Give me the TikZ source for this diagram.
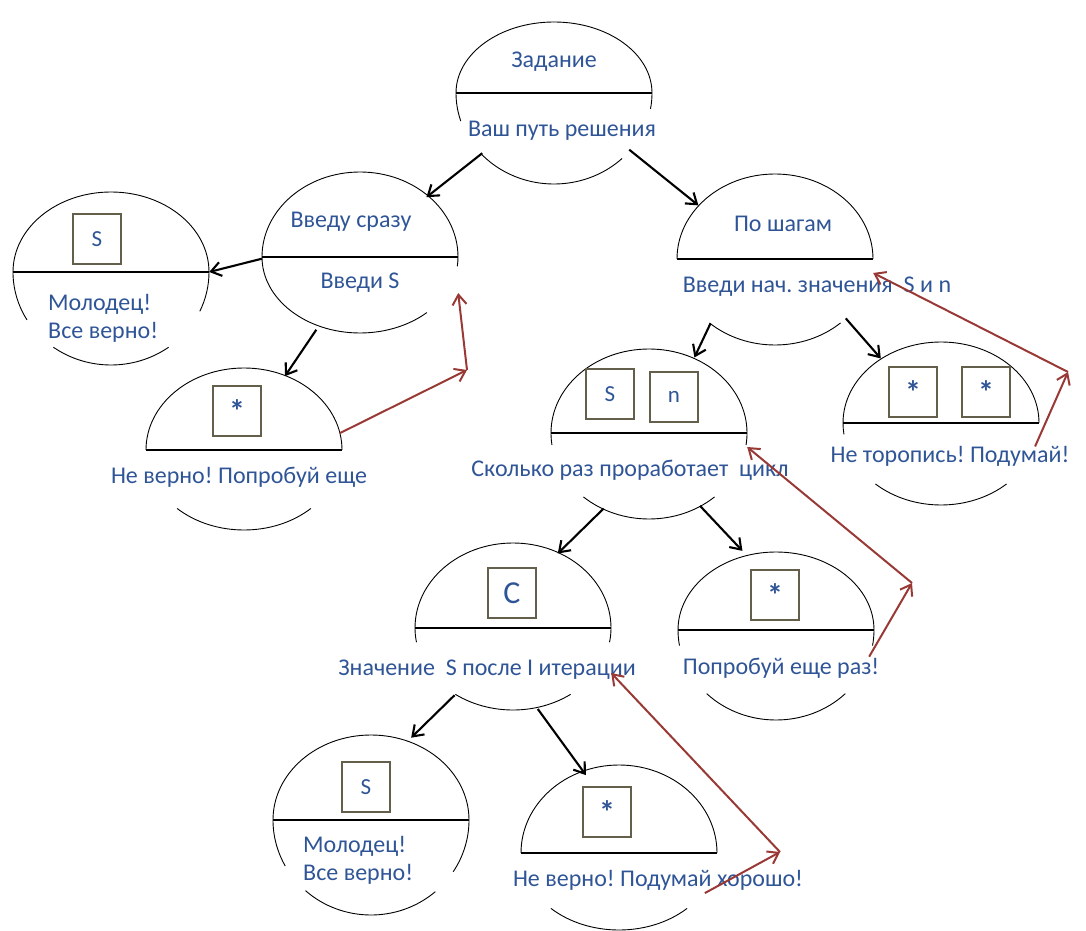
\documentclass[tikz,border=0pt]{standalone}
\usepackage{fontspec}
\setmainfont{Carlito}
\usetikzlibrary{arrows.meta,shapes.geometric}
\definecolor{txtblue}{RGB}{47,85,151}
\definecolor{darkred}{RGB}{153,57,54}
\definecolor{boxgray}{RGB}{100,95,75}
\frenchspacing
\tikzset{node distance=2.0cm, auto}
\newcommand{\toparc}[2]{\draw[rim] ([shift={(180:98pt and #2pt)}]#1.center) arc[start angle=180,end angle=0,x radius=98pt,y radius=#2pt];
  \draw[bar] (#1.west) -- (#1.east);}
\newcommand{\lowarc}[4]{\draw[rim] ([shift={(#3:98pt and #2pt)}]#1.center) arc[start angle=#3,end angle=#4,x radius=98pt,y radius=#2pt];}

\begin{document}
\begin{tikzpicture}[x=1pt,y=1pt,
  >={Straight Barb[length=10pt,width=14pt]},
  qn/.style={ellipse, minimum width=196pt, minimum height=#1, inner sep=0pt},
  txt/.style={text=txtblue, font=\fontsize{24}{28}\selectfont, inner sep=1pt},
  cell/.style={draw=boxgray, line width=1.3pt, minimum width=48pt, minimum height=50pt, text=txtblue, font=\fontsize{23}{24}\selectfont},
  star/.style={cell, font=\fontsize{32}{32}\selectfont\bfseries},
  rim/.style={line width=0.9pt},
  bar/.style={line width=2.4pt},
  fwd/.style={->, line width=2.1pt},
  ret/.style={->, line width=2pt, draw=darkred}
]
\useasboundingbox (0,0) rectangle (1086,930);

\node[qn=176pt] (zad) at (554,837) {};
\node[qn=162pt] (vs) at (360,673) {};
\node[qn=173pt] (ok1) at (111,658) {};
\node[qn=162pt] (nv1) at (244,480) {};
\node[qn=171pt] (ps) at (775,671) {};
\node[qn=170pt] (sn) at (649,497) {};
\node[qn=163pt] (nt) at (941,507) {};
\node[qn=167pt] (it) at (513,302) {};
\node[qn=168pt] (pr) at (776,300) {};
\node[qn=180pt] (ok2) at (371,110) {};
\node[qn=165pt] (nv2) at (619,77) {};

\toparc{zad}{71}
\lowarc{zad}{91}{180}{198} \lowarc{zad}{91}{222}{314} \lowarc{zad}{91}{350}{360}
\toparc{vs}{85}
\lowarc{vs}{76}{180}{313} \lowarc{vs}{76}{353}{360}
\toparc{ok1}{80}
\lowarc{ok1}{93}{180}{211} \lowarc{ok1}{93}{234}{306} \lowarc{ok1}{93}{335}{360}
\toparc{nv1}{82}
\lowarc{nv1}{80}{227}{313}
\toparc{ps}{85}
\lowarc{ps}{86}{228}{312}
\toparc{sn}{84}
\lowarc{sn}{86}{180}{188} \lowarc{sn}{86}{228}{312} \lowarc{sn}{86}{352}{360}
\toparc{nt}{81}
\lowarc{nt}{82}{180}{188} \lowarc{nt}{82}{228}{312}
\toparc{it}{85}
\lowarc{it}{82}{180}{190} \lowarc{it}{82}{234}{306} \lowarc{it}{82}{350}{360}
\toparc{pr}{78}
\lowarc{pr}{90}{180}{190} \lowarc{pr}{90}{225}{315} \lowarc{pr}{90}{350}{360}
\toparc{ok2}{85}
\lowarc{ok2}{95}{180}{209} \lowarc{ok2}{95}{228}{311} \lowarc{ok2}{95}{327}{360}
\toparc{nv2}{88}
\lowarc{nv2}{77}{226}{314}

\node[txt] (zadT) at ([yshift=31pt]zad.center) {Задание};
\node[txt] (zadB) at ([shift={(8pt,-38pt)}]zad.center) {Ваш путь решения};
\node[txt] (vsT) at ([shift={(-9pt,35pt)}]vs.center) {Введу сразу};
\node[txt] (vsB) at ([yshift=-26pt]vs.center) {Введи S};
\node[cell] (ok1S) at ([shift={(-14pt,33pt)}]ok1.center) {S};
\node[txt, align=left, anchor=west] (ok1B) at ([shift={(-64pt,-46pt)}]ok1.center) {Молодец!\\Все верно!};
\node[star] (nv1S) at ([shift={(-7pt,39pt)}]nv1.center) {*};
\node[txt] (nv1B) at ([shift={(-5pt,-27pt)}]nv1.center) {Не верно! Попробуй еще};
\node[txt] (psT) at ([shift={(8pt,35pt)}]ps.center) {По шагам};
\node[txt] (psB) at ([shift={(42pt,-28pt)}]ps.center) {Введи нач. значения~ S и n};
\node[cell] (snS) at ([shift={(-39pt,39pt)}]sn.center) {S};
\node[cell] (snN) at ([shift={(25pt,36pt)}]sn.center) {n};
\node[txt] (snB) at ([shift={(-19pt,-37pt)}]sn.center) {Сколько раз проработает~ цикл};
\node[star] (ntA) at ([shift={(-28pt,31pt)}]nt.center) {*};
\node[star] (ntB) at ([shift={(45pt,31pt)}]nt.center) {*};
\node[txt] (ntT) at ([shift={(9pt,-33pt)}]nt.center) {Не торопись! Подумай!};
\node[cell, font=\fontsize{32}{32}\selectfont] (itC) at ([shift={(-1pt,35pt)}]it.center) {C};
\node[txt] (itB) at ([shift={(-26pt,-42pt)}]it.center) {Значение~ S после I итерации};
\node[star] (prS) at ([shift={(-1pt,35pt)}]pr.center) {*};
\node[txt] (prB) at ([shift={(5pt,-38pt)}]pr.center) {Попробуй еще раз!};
\node[cell] (ok2S) at ([shift={(-5pt,33pt)}]ok2.center) {S};
\node[txt, align=left, anchor=west] (ok2B) at ([shift={(-69pt,-40pt)}]ok2.center) {Молодец!\\Все верно!};
\node[star] (nv2S) at ([shift={(-12pt,41pt)}]nv2.center) {*};
\node[txt] (nv2B) at ([shift={(39pt,-27pt)}]nv2.center) {Не верно! Подумай хорошо!};

\draw[fwd] (zad.220) -- (vs.42);
\draw[fwd] (zad.323) -- (ps.145);
\draw[fwd] (vs.181) -- (ok1.east);
\draw[fwd] (vs.239) -- (nv1.61);
\draw[fwd] (ps.225) -- (sn.59);
\draw[fwd] (ps.320) -- (nt.133);
\draw[fwd] (sn.239) -- (it.59);
\draw[fwd] (sn.305) -- (pr.113);
\draw[fwd] (it.229) -- (ok2.64);
\draw[fwd] (it.287) -- (nv2.113);

\coordinate (t1) at (467,560);
\coordinate (t2) at (1068,558);
\coordinate (t3) at (912,347);
\coordinate (t4) at (780,78);
\draw[ret] (nv1.10) -- (t1);
\draw[ret] (t1) -- ([yshift=-36pt]vs.east);
\draw[ret] (nt.346) -- (t2);
\draw[ret] (t2) -- ([yshift=-14pt]ps.east);
\draw[ret] (pr.344) -- (t3);
\draw[ret] (t3) -- ([yshift=-14pt]sn.east);
\draw[ret] (nv2.335) -- (t4);
\draw[ret] (t4) -- ([yshift=-45pt]it.east);
\end{tikzpicture}
\end{document}
